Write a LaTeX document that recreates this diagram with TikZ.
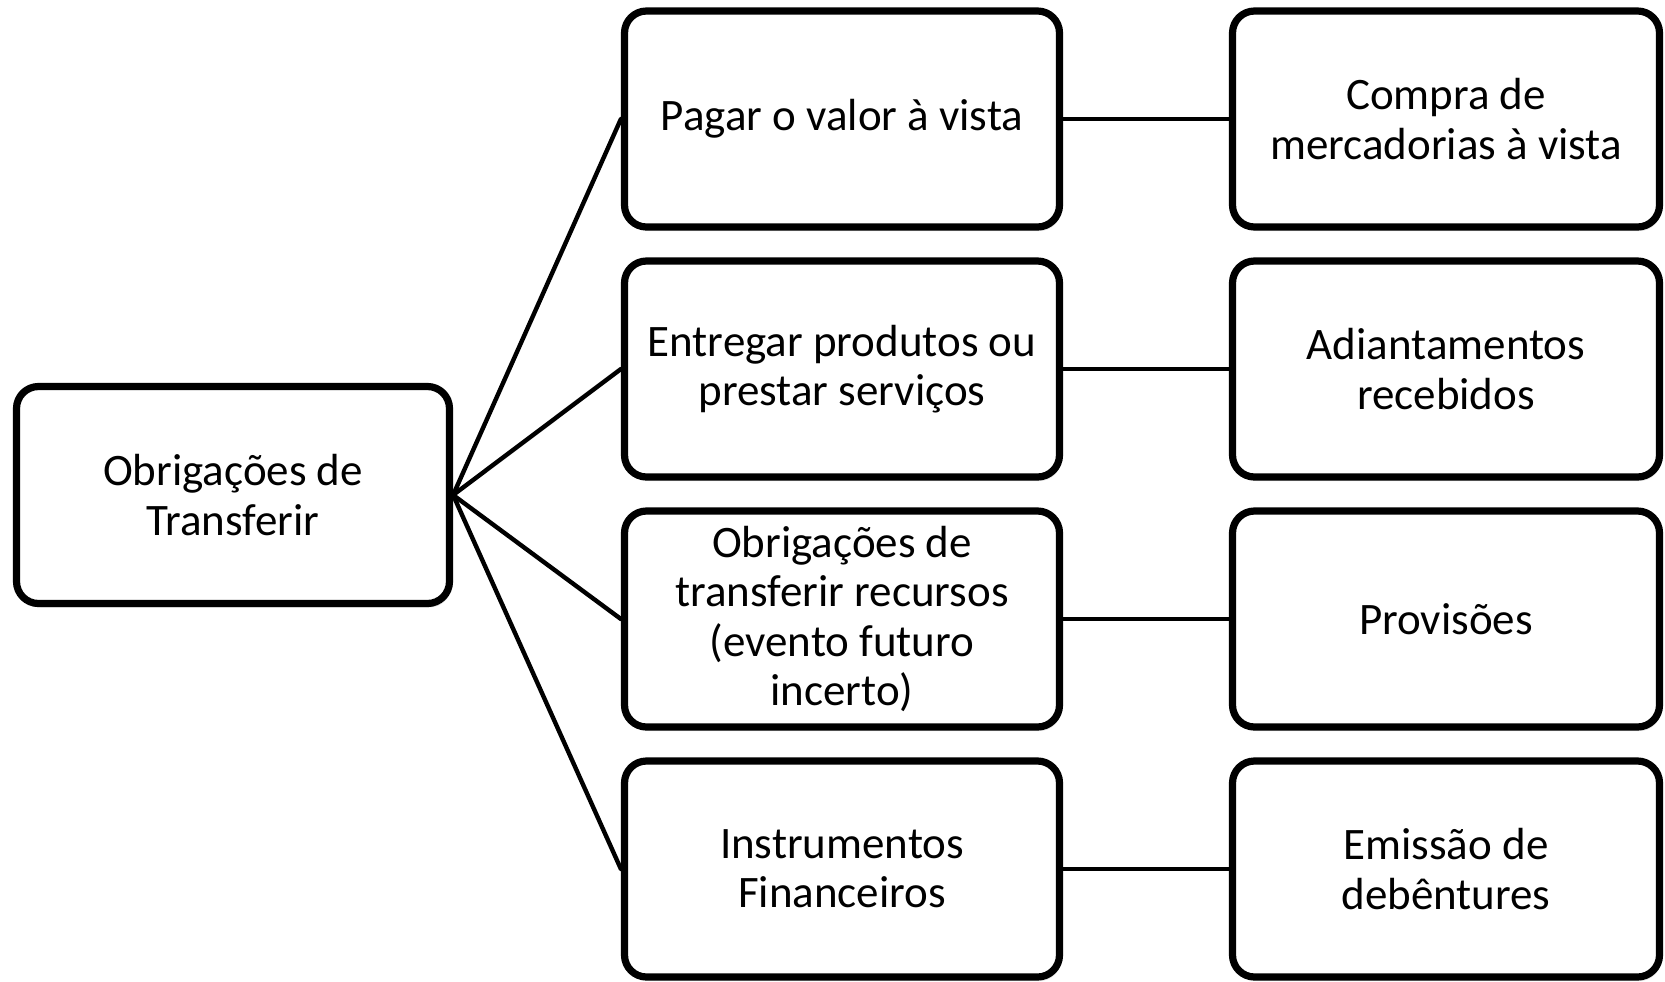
\documentclass[tikz,border=0pt]{standalone}
\usepackage{fontspec}
\setmainfont{Carlito}
\usetikzlibrary{shadows}
\tikzset{caixa/.style={draw,line width=3.6pt,rounded corners=11pt,fill=white,align=center,
    minimum width=217.5pt,minimum height=108pt,inner sep=0pt,
    font=\fontsize{22.5}{24.6}\selectfont,
    drop shadow={shadow xshift=1pt,shadow yshift=-2pt,opacity=0.2}},
  liga/.style={line width=2.2pt}}
\begin{document}
\begin{tikzpicture}[x=0.5pt,y=-0.5pt,line cap=round,line join=round]
\useasboundingbox (0,0) rectangle (1665,981);
\node[caixa,minimum width=216.5pt,minimum height=108.5pt] (ot) at (233,495) {Obrigações de\\Transferir};
\foreach \y/\n/\txm/\txr in {119/1/{Pagar o valor à vista}/{Compra de\\mercadorias à vista},
  369/2/{Entregar produtos ou\\prestar serviços}/{Adiantamentos\\recebidos},
  619/3/{Obrigações de\\transferir recursos\\(evento futuro\\incerto)}/{Provisões},
  869/4/{Instrumentos\\Financeiros}/{Emissão de\\debêntures}}
{\node[caixa] (m\n) at (842,\y) {\txm};
\node[caixa,minimum width=213.5pt] (r\n) at (1446,\y) {\txr};
\draw[liga] (ot.east) -- (m\n.west);
\draw[liga] (m\n.east) -- (r\n.west);}
\end{tikzpicture}
\end{document}
